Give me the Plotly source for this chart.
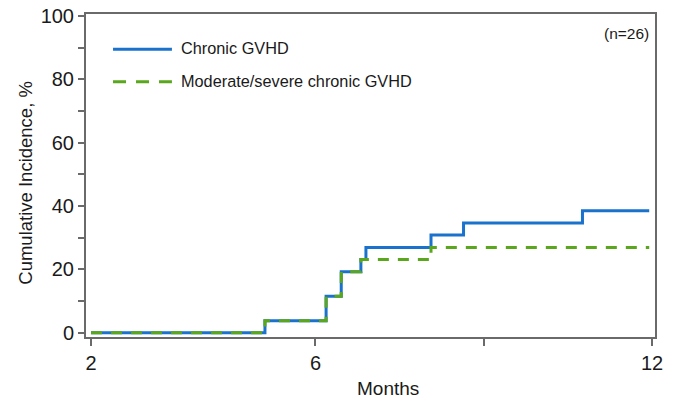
import plotly.graph_objects as go

# Data
blue_months = [2, 5.10, 6.19, 6.46, 6.81, 6.90, 8.06, 8.64, 10.76, 11.95]
blue_ci = [0, 3.8, 11.5, 19.2, 23.1, 26.9, 30.8, 34.6, 38.5, 38.5]
green_months = [2, 5.10, 6.19, 6.46, 6.81, 8.06, 11.95]
green_ci = [0, 3.8, 11.5, 19.2, 23.1, 26.9, 26.9]

x_tickvals = [2, 6, 9, 12]
x_ticktext = ["2", "6", "", "12"]
y_tickvals = [0, 10, 20, 30, 40, 50, 60, 70, 80, 90, 100]
y_ticktext = ["0", "", "20", "", "40", "", "60", "", "80", "", "100"]

series_names = ["Chronic GVHD", "Moderate/severe chronic GVHD"]
BLUE = "#1a72cc"
GREEN = "#5aa61c"
AXIS = "#6a6a6a"
TXT = "#1a1a1a"
FONT = "Liberation Sans, Arial, sans-serif"

fig = go.Figure()
fig.add_trace(go.Scatter(x=blue_months, y=blue_ci, mode="lines", line_shape="hv",
                         line=dict(color=BLUE, width=3), name=series_names[0], showlegend=False))
fig.add_trace(go.Scatter(x=green_months, y=green_ci, mode="lines", line_shape="hv",
                         line=dict(color=GREEN, width=3, dash="11px,9px"), name=series_names[1], showlegend=False))

# Legend drawn as samples + text (paper coordinates of plot area)
fig.add_shape(type="line", xref="paper", yref="paper", x0=0.0475, x1=0.151, y0=0.891, y1=0.891,
              line=dict(color=BLUE, width=3))
fig.add_shape(type="line", xref="paper", yref="paper", x0=0.0475, x1=0.151, y0=0.790, y1=0.790,
              line=dict(color=GREEN, width=3, dash="13px,10px"))
fig.add_annotation(xref="paper", yref="paper", x=0.163, y=0.895, text=series_names[0], showarrow=False,
                   xanchor="left", yanchor="middle", font=dict(family=FONT, size=16.3, color=TXT))
fig.add_annotation(xref="paper", yref="paper", x=0.163, y=0.794, text=series_names[1], showarrow=False,
                   xanchor="left", yanchor="middle", font=dict(family=FONT, size=16.3, color=TXT))
fig.add_annotation(xref="paper", yref="paper", x=0.993, y=0.94, text="(n=26)", showarrow=False,
                   xanchor="right", yanchor="middle", font=dict(family=FONT, size=15.5, color=TXT))

# Axis titles
fig.add_annotation(xref="paper", yref="paper", x=0.53, y=-0.158, text="Months", showarrow=False,
                   xanchor="center", yanchor="middle", font=dict(family=FONT, size=19, color=TXT))
fig.add_annotation(xref="paper", yref="paper", x=-0.107, y=0.478, text="Cumulative Incidence, %",
                   showarrow=False, textangle=-90, xanchor="center", yanchor="middle",
                   font=dict(family=FONT, size=18.5, color=TXT))

fig.update_layout(
    width=681, height=403,
    margin=dict(l=86, r=26, t=14, b=66, autoexpand=False),
    paper_bgcolor="white", plot_bgcolor="white",
    font=dict(family=FONT, color=TXT),
    xaxis=dict(range=[1.91, 12.053], tickvals=x_tickvals, ticktext=x_ticktext,
               ticks="outside", ticklen=7, tickwidth=1.5, tickcolor=AXIS,
               showline=True, linecolor=AXIS, linewidth=2, mirror=True,
               showgrid=False, zeroline=False, automargin=False,
               tickfont=dict(size=20, family=FONT, color=TXT)),
    yaxis=dict(range=[-1.36, 100.6], tickvals=y_tickvals, ticktext=y_ticktext,
               ticks="outside", ticklen=6, tickwidth=1.5, tickcolor=AXIS,
               showline=True, linecolor=AXIS, linewidth=2, mirror=True,
               showgrid=False, zeroline=False, automargin=False,
               tickfont=dict(size=20, family=FONT, color=TXT)),
)

# Remove the default page margin so the figure sits at the window's top-left corner
fig.write_html("out.html", config={"displayModeBar": False},
               post_script="document.body.style.margin='0';document.body.style.overflow='hidden';")
